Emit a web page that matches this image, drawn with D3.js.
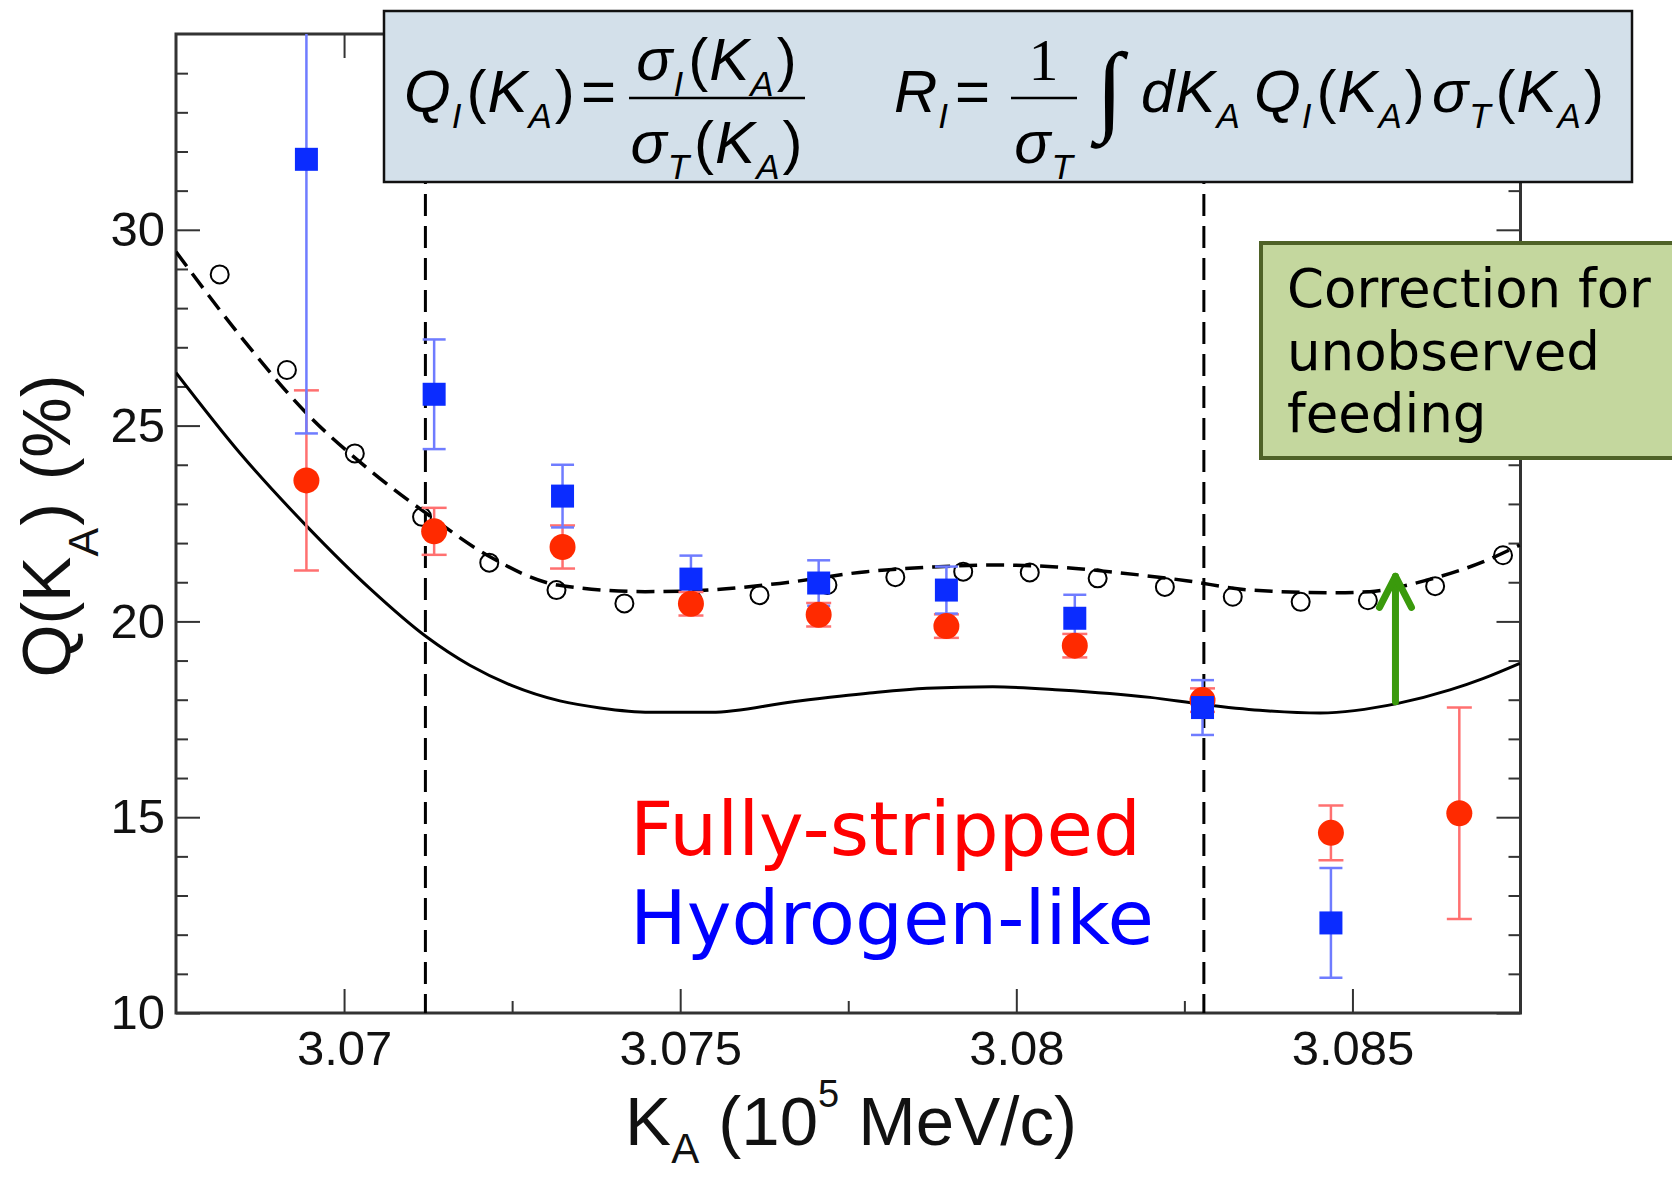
<!DOCTYPE html>
<html>
<head>
<meta charset="utf-8">
<script src="https://cdn.jsdelivr.net/npm/d3@7"></script>
<style>
  body { margin: 0; background: #fff; }
  svg { display: block; }
</style>
</head>
<body>
<div id="chart"></div>
<script>
// K_A positions of the measured points (10^5 MeV/c)
var kaPoints = [3.06944, 3.07134, 3.07325, 3.07516, 3.07706, 3.07896, 3.08087, 3.08277, 3.08468, 3.08659];

// fully-stripped (red) and hydrogen-like (blue) Q(K_A) in %
var fullyStripped    = [23.6, 22.3, 21.9, 20.45, 20.17, 19.88, 19.38, 17.99, 14.6, 15.1];
var fullyStrippedErr = [2.3, 0.6, 0.55, 0.3, 0.3, 0.3, 0.3, 0.3, 0.7, 2.7];
var hydrogenLike     = [31.8, 25.8, 23.2, 21.08, 20.98, 20.8, 20.08, 17.8, 12.3];
var hydrogenLikeErr  = [7.0, 1.4, 0.8, 0.6, 0.58, 0.6, 0.6, 0.7, 1.4];

// open circles (corrected calculation)
var openKa = [3.06815, 3.06915, 3.07016, 3.07116, 3.07216, 3.07316, 3.07417, 3.07518, 3.07618, 3.07719,
              3.0782, 3.07921, 3.0802, 3.08121, 3.08221, 3.08322, 3.08423, 3.08523, 3.08623, 3.08724];
var openQ  = [28.86, 26.42, 24.29, 22.67, 21.5, 20.8, 20.46, 20.55, 20.67, 20.93,
              21.13, 21.27, 21.25, 21.1, 20.88, 20.63, 20.5, 20.54, 20.9, 21.69];

// dashed curve (with feeding correction)
var dashedKa = [3.0675, 3.06845, 3.06944, 3.07039, 3.07123, 3.07217, 3.07318, 3.07448, 3.07516, 3.07648,
                3.07777, 3.07876, 3.07965, 3.0806, 3.08154, 3.08253, 3.08348, 3.08477, 3.08526, 3.0861,
                3.08694, 3.08749];
var dashedQ  = [29.44, 27.3, 25.32, 23.85, 22.75, 21.65, 20.93, 20.76, 20.78, 20.97,
                21.27, 21.39, 21.44, 21.39, 21.24, 21.04, 20.8, 20.73, 20.76, 21.05,
                21.52, 21.95];

// solid curve (without correction)
var solidKa = [3.0675, 3.06845, 3.06944, 3.07039, 3.07123, 3.07187, 3.0725, 3.07321, 3.07381, 3.07455,
               3.07546, 3.07668, 3.07782, 3.07867, 3.07965, 3.08065, 3.08199, 3.08278, 3.08362, 3.08452,
               3.08566, 3.08645, 3.08694, 3.08749];
var solidQ  = [26.35, 24.3, 22.44, 20.83, 19.6, 18.88, 18.36, 17.97, 17.79, 17.68,
               17.68, 17.95, 18.17, 18.29, 18.33, 18.25, 18.06, 17.88, 17.73, 17.66,
               17.9, 18.25, 18.54, 18.93];

// integration window and correction arrow
var windowKa = [3.07121, 3.08279];
var arrowKa = 3.08564;
var arrowQ = [17.95, 21.15];

var xTicks = [3.07, 3.075, 3.08, 3.085];
var xTickLabels = ["3.07", "3.075", "3.08", "3.085"];
var xMinorTicks = [3.0725, 3.0775, 3.0825];
var yTicks = [10, 15, 20, 25, 30];
var yTickLabels = ["10", "15", "20", "25", "30"];

window.onload = function() {
    var W = 1672, H = 1177;
    var left = 176, right = 1520.5, top = 34, bottom = 1013;

    var svg = d3.select("#chart").append("svg")
        .attr("width", W).attr("height", H)
        .style("font-family", "'Liberation Sans', Arial, sans-serif");

    var x = d3.scaleLinear().domain([3.0675, 3.0875]).range([left, right]);
    var y = d3.scaleLinear().domain([10, 35]).range([bottom, top]);

    svg.append("clipPath").attr("id", "plotclip")
       .append("rect").attr("x", left).attr("y", top)
       .attr("width", right - left).attr("height", bottom - top);

    // ticks on all four sides, pointing inward
    var yMinor = d3.range(11, 35).filter(function(v) { return v % 5 !== 0; });
    function tickStyle(g) {
        g.select(".domain").remove();
        g.selectAll(".tick line").attr("stroke", "#333").attr("stroke-width", 2);
    }
    svg.append("g").attr("transform", "translate(0," + bottom + ")")
       .call(d3.axisBottom(x).tickValues(xTicks).tickSize(-24).tickPadding(17)
             .tickFormat(function(d, i) { return xTickLabels[i]; }))
       .call(tickStyle)
       .selectAll("text").attr("font-size", 49).attr("fill", "#111")
       .attr("font-family", "'Liberation Sans', Arial, sans-serif");
    svg.append("g").attr("transform", "translate(0," + bottom + ")")
       .call(d3.axisBottom(x).tickValues(xMinorTicks).tickSize(-12).tickFormat(""))
       .call(tickStyle);
    svg.append("g").attr("transform", "translate(0," + top + ")")
       .call(d3.axisTop(x).tickValues(xTicks).tickSize(-24).tickFormat(""))
       .call(tickStyle);
    svg.append("g").attr("transform", "translate(0," + top + ")")
       .call(d3.axisTop(x).tickValues(xMinorTicks).tickSize(-12).tickFormat(""))
       .call(tickStyle);
    svg.append("g").attr("transform", "translate(" + left + ",0)")
       .call(d3.axisLeft(y).tickValues(yTicks).tickSize(-24).tickPadding(11)
             .tickFormat(function(d, i) { return yTickLabels[i]; }))
       .call(tickStyle)
       .selectAll("text").attr("font-size", 49).attr("fill", "#111")
       .attr("font-family", "'Liberation Sans', Arial, sans-serif");
    svg.append("g").attr("transform", "translate(" + left + ",0)")
       .call(d3.axisLeft(y).tickValues(yMinor).tickSize(-12).tickFormat(""))
       .call(tickStyle);
    svg.append("g").attr("transform", "translate(" + right + ",0)")
       .call(d3.axisRight(y).tickValues(yTicks).tickSize(-24).tickFormat(""))
       .call(tickStyle);
    svg.append("g").attr("transform", "translate(" + right + ",0)")
       .call(d3.axisRight(y).tickValues(yMinor).tickSize(-12).tickFormat(""))
       .call(tickStyle);

    svg.append("rect").attr("x", left).attr("y", top)
       .attr("width", right - left).attr("height", bottom - top)
       .attr("fill", "none").attr("stroke", "#333").attr("stroke-width", 3);

    var plot = svg.append("g").attr("clip-path", "url(#plotclip)");

    // curves
    var line = d3.line()
        .x(function(d) { return x(d[0]); })
        .y(function(d) { return y(d[1]); })
        .curve(d3.curveMonotoneX);

    plot.append("path")
        .attr("d", line(d3.zip(solidKa, solidQ)))
        .attr("fill", "none").attr("stroke", "#000").attr("stroke-width", 3);
    plot.append("path")
        .attr("d", line(d3.zip(dashedKa, dashedQ)))
        .attr("fill", "none").attr("stroke", "#000").attr("stroke-width", 3.5)
        .attr("stroke-dasharray", "18,9");

    // integration window
    plot.selectAll(".window").data(windowKa).enter().append("line")
        .attr("x1", function(d) { return x(d); }).attr("x2", function(d) { return x(d); })
        .attr("y1", top).attr("y2", bottom)
        .attr("stroke", "#000").attr("stroke-width", 3).attr("stroke-dasharray", "22,10");

    // open circles
    plot.selectAll(".open").data(d3.zip(openKa, openQ)).enter().append("circle")
        .attr("cx", function(d) { return x(d[0]); })
        .attr("cy", function(d) { return y(d[1]); })
        .attr("r", 9).attr("fill", "none").attr("stroke", "#000").attr("stroke-width", 2);

    // error bars + markers
    function errorBars(vals, errs, color, capW) {
        var g = plot.append("g").attr("stroke", color).attr("stroke-width", 2.5);
        vals.forEach(function(v, i) {
            var cx = x(kaPoints[i]);
            var lo = y(v - errs[i]), hi = y(v + errs[i]);
            g.append("line").attr("x1", cx).attr("x2", cx).attr("y1", lo).attr("y2", hi);
            g.append("line").attr("x1", cx - capW / 2).attr("x2", cx + capW / 2).attr("y1", lo).attr("y2", lo);
            g.append("line").attr("x1", cx - capW / 2).attr("x2", cx + capW / 2).attr("y1", hi).attr("y2", hi);
        });
    }
    errorBars(fullyStripped, fullyStrippedErr, "#ff7070", 25);
    errorBars(hydrogenLike, hydrogenLikeErr, "#6f7cff", 23);

    plot.selectAll(".fs").data(fullyStripped).enter().append("circle")
        .attr("cx", function(d, i) { return x(kaPoints[i]); })
        .attr("cy", function(d) { return y(d); })
        .attr("r", 13).attr("fill", "#ff2a00");
    plot.selectAll(".hl").data(hydrogenLike).enter().append("rect")
        .attr("x", function(d, i) { return x(kaPoints[i]) - 11.5; })
        .attr("y", function(d) { return y(d) - 11.5; })
        .attr("width", 23).attr("height", 23).attr("fill", "#0b2cff");

    // correction arrow
    var ax = x(arrowKa), ay0 = y(arrowQ[0]), ay1 = y(arrowQ[1]);
    var arrow = svg.append("g").attr("stroke", "#3a9a0c").attr("stroke-width", 7)
        .attr("fill", "none").attr("stroke-linecap", "round").attr("stroke-linejoin", "round");
    arrow.append("line").attr("x1", ax).attr("x2", ax).attr("y1", ay0).attr("y2", ay1);
    arrow.append("polyline")
        .attr("points", [[ax - 16, ay1 + 31], [ax, ay1], [ax + 16, ay1 + 31]].join(" "));

    // text with sub/superscripts
    function rich(parent, px, py, parts, size, anchor) {
        var t = parent.append("text").attr("x", px).attr("y", py)
            .attr("font-size", size).attr("text-anchor", anchor || "start");
        var shift = 0;
        parts.forEach(function(p) {
            var s = p.shift || 0;
            var ts = t.append("tspan").attr("dy", s - shift).text(p.t);
            if (p.dx) ts.attr("dx", p.dx);
            if (p.size) ts.attr("font-size", p.size);
            if (p.it) ts.attr("font-style", "italic");
            if (p.font) ts.attr("font-family", p.font);
            shift = s;
        });
        return t;
    }

    // legend labels
    svg.append("text").attr("x", 630).attr("y", 855)
       .attr("font-family", "'DejaVu Sans', Verdana, sans-serif").attr("font-size", 75.5)
       .attr("fill", "#ff0000").text("Fully-stripped");
    svg.append("text").attr("x", 630).attr("y", 944)
       .attr("font-family", "'DejaVu Sans', Verdana, sans-serif").attr("font-size", 75.5)
       .attr("fill", "#0000ff").text("Hydrogen-like");

    // axis titles
    rich(svg, 851, 1145, [
        {t: "K"}, {t: "A", size: 42, shift: 18}, {t: " (10"}, {t: "5", size: 38, shift: -38}, {t: " MeV/c)"}
    ], 69, "middle").attr("fill", "#111");
    var yt = svg.append("g").attr("transform", "translate(70,526) rotate(-90)");
    rich(yt, 0, 0, [
        {t: "Q(K"}, {t: "A", size: 43, shift: 28}, {t: ")", dx: 2}, {t: " (%)", dx: 4}
    ], 68, "middle").attr("fill", "#111");

    // formula box
    svg.append("rect").attr("x", 384).attr("y", 11).attr("width", 1248).attr("height", 171)
       .attr("fill", "#d3e0ea").attr("stroke", "#111").attr("stroke-width", 2.5);
    var f = svg.append("g").attr("fill", "#000").attr("letter-spacing", 1);
    var sub = 35, sh = 16, fs = 60;
    function qPart(letter, subL) {
        return [{t: letter, it: true}, {t: subL, it: true, size: sub, shift: sh}, {t: "(", dx: 4},
                {t: "K", it: true}, {t: "A", it: true, size: sub, shift: sh}, {t: ")", dx: 2}];
    }
    rich(f, 404, 112, qPart("Q", "I"), fs);
    rich(f, 581, 112, [{t: "="}], fs);
    rich(f, 717, 80, qPart("σ", "I"), fs, "middle");
    f.append("line").attr("x1", 629).attr("x2", 805).attr("y1", 98).attr("y2", 98)
     .attr("stroke", "#000").attr("stroke-width", 2.5);
    rich(f, 717, 163, qPart("σ", "T"), fs, "middle");

    rich(f, 894, 112, [{t: "R", it: true}, {t: "I", it: true, size: sub, shift: sh}], fs);
    rich(f, 955, 112, [{t: "="}], fs);
    rich(f, 1044, 80, [{t: "1", font: "'Liberation Serif', 'Times New Roman', serif"}], fs, "middle");
    f.append("line").attr("x1", 1011).attr("x2", 1077).attr("y1", 98).attr("y2", 98)
     .attr("stroke", "#000").attr("stroke-width", 2.5);
    rich(f, 1044, 163, [{t: "σ", it: true}, {t: "T", it: true, size: sub, shift: sh}], fs, "middle");
    rich(f, 1096, 122, [{t: "∫", font: "'Liberation Serif', 'Times New Roman', serif", it: true}], 100);
    rich(f, 1141, 112, [{t: "dK", it: true}, {t: "A", it: true, size: sub, shift: sh}], fs);
    rich(f, 1254, 112, qPart("Q", "I"), fs);
    rich(f, 1432, 112, qPart("σ", "T"), fs);

    // correction note
    svg.append("rect").attr("x", 1261).attr("y", 243).attr("width", 440).attr("height", 215)
       .attr("fill", "#c4d79e").attr("stroke", "#4f6228").attr("stroke-width", 4);
    var note = ["Correction for", "unobserved", "feeding"];
    svg.selectAll(".note").data(note).enter().append("text")
       .attr("x", 1287).attr("y", function(d, i) { return 307 + i * 62.5; })
       .attr("font-family", "'DejaVu Sans', Verdana, sans-serif").attr("font-size", 53)
       .attr("fill", "#000").text(function(d) { return d; });
};
</script>
</body>
</html>
